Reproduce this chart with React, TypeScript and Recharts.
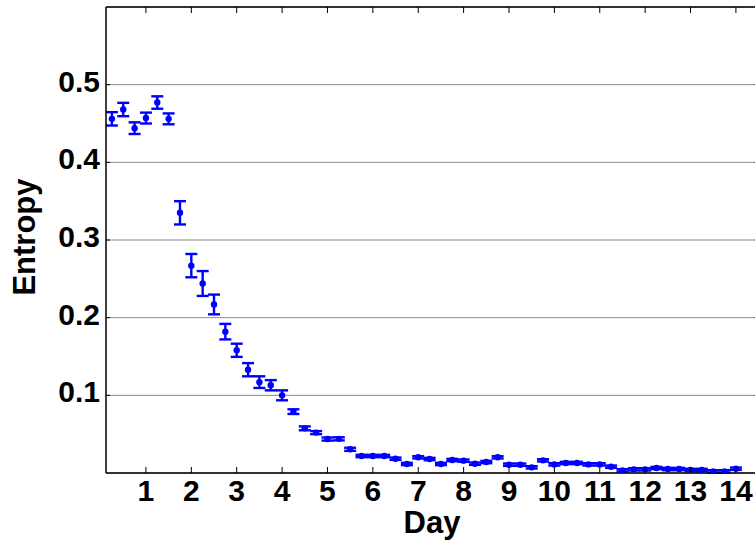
import React from "react";
import {
  CartesianGrid,
  ErrorBar,
  ReferenceLine,
  Scatter,
  ScatterChart,
  XAxis,
  YAxis,
} from "recharts";

const days = [
  0.25, 0.5, 0.75, 1, 1.25, 1.5, 1.75, 2, 2.25, 2.5, 2.75, 3, 3.25, 3.5, 3.75, 4,
  4.25, 4.5, 4.75, 5, 5.25, 5.5, 5.75, 6, 6.25, 6.5, 6.75, 7, 7.25, 7.5, 7.75, 8,
  8.25, 8.5, 8.75, 9, 9.25, 9.5, 9.75, 10, 10.25, 10.5, 10.75, 11, 11.25, 11.5,
  11.75, 12, 12.25, 12.5, 12.75, 13, 13.25, 13.5, 13.75, 14,
];

const entropy = [
  0.456, 0.468, 0.444, 0.457, 0.477, 0.456, 0.335, 0.267, 0.244, 0.217, 0.182,
  0.158, 0.133, 0.117, 0.113, 0.1, 0.079, 0.0575, 0.052, 0.0437, 0.044, 0.0305,
  0.0219, 0.0219, 0.0219, 0.0184, 0.0116, 0.0202, 0.018, 0.0116, 0.0167, 0.0159,
  0.012, 0.0141, 0.0202, 0.0107, 0.0107, 0.0073, 0.0163, 0.0111, 0.0129, 0.0129,
  0.0111, 0.0111, 0.0081, 0.0034, 0.0047, 0.0047, 0.0064, 0.0051, 0.0051, 0.0039,
  0.0039, 0.0021, 0.0021, 0.0055,
];

const entropyErr = [
  0.0086, 0.0086, 0.0075, 0.007, 0.008, 0.007, 0.015, 0.015, 0.016, 0.0127, 0.01,
  0.0085, 0.0085, 0.0075, 0.0066, 0.0064, 0.003, 0.0025, 0.002, 0.002, 0.002,
  0.002, 0.0015, 0.0015, 0.0015, 0.0015, 0.0015, 0.0015, 0.0015, 0.0015, 0.0015,
  0.0015, 0.0015, 0.0015, 0.0015, 0.0015, 0.0015, 0.0015, 0.0015, 0.0015, 0.0015,
  0.0015, 0.0015, 0.0015, 0.0015, 0.0015, 0.0015, 0.0015, 0.0015, 0.0015, 0.0015,
  0.0015, 0.0015, 0.0015, 0.0015, 0.0015,
];

const xTicks = [1, 2, 3, 4, 5, 6, 7, 8, 9, 10, 11, 12, 13, 14];
const yTicks = [0.1, 0.2, 0.3, 0.4, 0.5];

const data = days.map((day, i) => ({ day, entropy: entropy[i], err: entropyErr[i] }));

// plot box (MATLAB-style axes, right edge runs past the frame)
const CHART_W = 765;
const PLOT_LEFT = 106;
const PLOT_TOP = 7;
const PLOT_BOTTOM = 473;
const PLOT_RIGHT = 758.6;

const BLUE = "#0000ff";
const FONT = {
  fontFamily: '"Liberation Sans", Arial, Helvetica, sans-serif',
  fontWeight: 700,
  fill: "#000",
};

function XTick({ x, payload }: any) {
  return (
    <g>
      <line x1={x} x2={x} y1={PLOT_BOTTOM} y2={PLOT_BOTTOM - 6} stroke="#000" />
      <line x1={x} x2={x} y1={PLOT_TOP} y2={PLOT_TOP + 6} stroke="#000" />
      <text x={x} y={501} textAnchor="middle" style={{ ...FONT, fontSize: 30 }}>
        {payload.value}
      </text>
    </g>
  );
}

function YTick({ y, payload }: any) {
  return (
    <g>
      <line x1={PLOT_LEFT} x2={PLOT_LEFT + 4} y1={y} y2={y} stroke="#000" />
      <line x1={PLOT_RIGHT - 4} x2={PLOT_RIGHT} y1={y} y2={y} stroke="#000" />
      <text x={100} y={y + 7} textAnchor="end" style={{ ...FONT, fontSize: 30 }}>
        {payload.value}
      </text>
    </g>
  );
}

const Dot = (p: any) => <circle cx={p.cx} cy={p.cy} r={3.2} fill={BLUE} />;

export default function App() {
  return (
    <div
      style={{
        position: "absolute",
        left: 0,
        top: 0,
        width: 755,
        height: 540,
        overflow: "hidden",
        background: "#fff",
      }}
    >
      <ScatterChart
        width={CHART_W}
        height={540}
        margin={{ top: PLOT_TOP, right: CHART_W - PLOT_RIGHT, bottom: 0, left: 0 }}
      >
        <CartesianGrid vertical={false} stroke="#8a8a8a" strokeWidth={1} />
        <XAxis
          dataKey="day"
          type="number"
          domain={[0.12, 14.5]}
          ticks={xTicks}
          interval={0}
          allowDataOverflow
          height={540 - PLOT_BOTTOM}
          axisLine={{ stroke: "#000", strokeWidth: 1.5 }}
          tickLine={false}
          tick={(p: any) => <XTick {...p} />}
          label={() => (
            <text x={432} y={533} textAnchor="middle" style={{ ...FONT, fontSize: 31 }}>
              Day
            </text>
          )}
        />
        <YAxis
          dataKey="entropy"
          type="number"
          domain={[0, 0.6]}
          ticks={yTicks}
          interval={0}
          allowDataOverflow
          width={PLOT_LEFT}
          axisLine={{ stroke: "#000", strokeWidth: 1.5 }}
          tickLine={false}
          tick={(p: any) => <YTick {...p} />}
          label={() => (
            <text
              x={35}
              y={237}
              transform="rotate(-90 35 237)"
              textAnchor="middle"
              style={{ ...FONT, fontSize: 31 }}
            >
              Entropy
            </text>
          )}
        />
        <ReferenceLine y={0.6} stroke="#000" strokeWidth={1.5} />
        <Scatter data={data} dataKey="entropy" fill={BLUE} shape={Dot} isAnimationActive={false}>
          <ErrorBar
            dataKey="err"
            direction="y"
            width={6}
            stroke={BLUE}
            strokeWidth={2.4}
            isAnimationActive={false}
          />
        </Scatter>
      </ScatterChart>
    </div>
  );
}
